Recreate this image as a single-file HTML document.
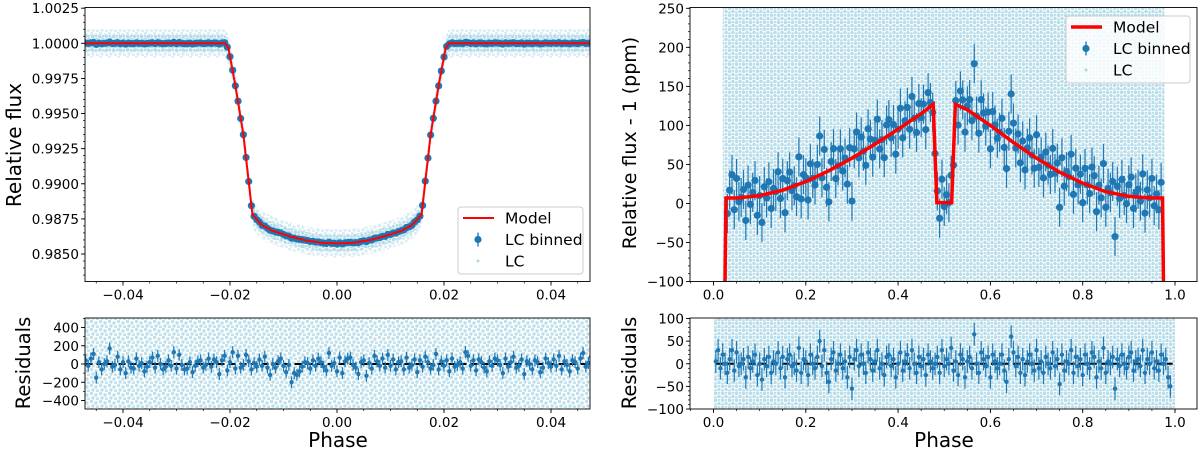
<!DOCTYPE html>
<html><head><meta charset="utf-8">
<style>
html,body{margin:0;padding:0;background:#fff;}
svg{display:block;font-family:"DejaVu Sans","Liberation Sans",sans-serif;}
</style></head>
<body>
<svg id="fig" width="1200" height="452" viewBox="0 0 1200 452" xmlns="http://www.w3.org/2000/svg">
<defs>
<pattern id="dotsA" width="9" height="8" patternUnits="userSpaceOnUse">
<circle cx="1.5" cy="1.5" r="1.7" fill="#add8e6" opacity="0.8"/>
<circle cx="6" cy="3" r="1.7" fill="#add8e6" opacity="0.8"/>
<circle cx="3" cy="6" r="1.7" fill="#add8e6" opacity="0.8"/>
<circle cx="7.5" cy="7" r="1.7" fill="#add8e6" opacity="0.7"/>
</pattern>
<pattern id="dotsB" width="7" height="7" patternUnits="userSpaceOnUse">
<circle cx="1.5" cy="1.5" r="1.8" fill="#add8e6" opacity="0.85"/>
<circle cx="5" cy="4.5" r="1.8" fill="#add8e6" opacity="0.85"/>
<circle cx="5" cy="1" r="1.4" fill="#add8e6" opacity="0.8"/>
<circle cx="1.5" cy="5.5" r="1.4" fill="#add8e6" opacity="0.8"/>
</pattern>
</defs>
</svg>
<script>
// ---------- data ----------
const leftModelPhase=[-0.048,-0.0209,-0.0203,-0.019,-0.0175,-0.0158,-0.014,-0.012,-0.009,-0.006,-0.003,0,0.003,0.006,0.009,0.012,0.014,0.0158,0.0175,0.019,0.0203,0.0209,0.048];
const leftModelFlux=[1.0,1.0,0.99965,0.9970,0.9935,0.9878,0.98705,0.98665,0.98628,0.98598,0.98580,0.98575,0.98580,0.98598,0.98628,0.98665,0.98705,0.9878,0.9935,0.9970,0.99965,1.0,1.0];
const leftBinStart=-0.0475, leftBinStep=0.0005;
const leftResid=[150,40,-20,60,110,-150,20,-60,0,30,170,-30,-10,80,-60,20,-100,30,-40,-50,60,-20,10,-80,-30,20,70,-40,90,0,-60,-30,40,-20,130,-50,100,-10,-60,-50,20,-90,-20,30,40,-40,-10,60,-30,50,20,-110,40,90,-70,20,130,-50,90,-40,-10,100,30,-60,10,-30,50,-20,80,-40,-120,0,-40,30,60,-20,-90,-10,-200,-100,-120,-80,-30,20,10,-50,40,-20,60,20,-30,-70,120,-20,10,-80,70,-100,30,60,70,-10,-40,-110,20,40,-130,10,-50,90,30,-20,60,-40,100,-20,50,-60,20,30,-60,70,-40,-10,50,-90,40,-30,80,20,-50,-10,110,-60,30,-20,40,-80,60,-30,-10,20,-50,130,90,-20,40,-70,50,20,-40,-80,30,-20,60,40,-10,-100,60,-30,20,80,-40,-20,50,-110,30,0,-60,40,20,-90,-40,60,10,-30,50,-20,90,-60,30,-10,-80,40,20,-50,60,120,-30,10,80];
const leftErr=65;
const leftYTicks=[0.985,0.9875,0.99,0.9925,0.995,0.9975,1.0,1.0025];
const leftYTickLabels=["0.9850","0.9875","0.9900","0.9925","0.9950","0.9975","1.0000","1.0025"];
const leftXTicks=[-0.04,-0.02,0,0.02,0.04];
const leftXTickLabels=["\u22120.04","\u22120.02","0.00","0.02","0.04"];
const leftRYTicks=[-400,-200,0,200,400];
const leftRYTickLabels=["\u2212400","\u2212200","0","200","400"];

const rightModelPhase=[0.025,0.027,0.05,0.1,0.15,0.2,0.25,0.3,0.35,0.4,0.45,0.476,0.484,0.516,0.524,0.55,0.6,0.65,0.7,0.75,0.8,0.85,0.9,0.95,0.973,0.975];
const rightModelFlux=[-100,7,7,10,17,28,42,58,76,95,115,127,1,1,127,120,100,78,58,40,26,15,9,7,7,-100];
const rightBinStart=0.005, rightBinStep=0.005;
const rightResid=[5,30,-10,20,0,-20,10,30,-15,25,-5,0,10,-30,15,-10,5,20,-25,0,-35,10,-5,15,-20,5,0,25,-10,15,-30,10,20,-5,0,-15,35,-20,10,5,-25,20,0,-10,15,50,-5,30,-20,-40,10,25,-15,0,20,-10,5,-30,15,-55,10,30,-5,20,0,-20,25,10,-15,5,30,-10,0,-25,15,20,-5,10,-30,0,25,-15,5,20,-10,30,0,-20,15,-5,10,-25,20,5,-10,0,15,-20,30,-5,10,0,35,-15,5,-25,20,10,-30,5,15,-10,65,0,-20,25,10,-5,15,-30,20,5,-10,0,20,-15,-40,10,60,25,-5,15,-20,10,-25,5,20,0,-15,30,-10,5,-20,15,0,-10,25,-5,10,-45,20,-15,5,0,30,-20,15,-5,10,-25,20,0,-10,25,15,-30,5,-10,35,-20,5,0,15,-55,10,-5,20,0,-10,15,25,-15,5,10,-5,30,-20,10,0,25,-10,5,-15,20,0,10,-30,-50];
const rightErr=25;
const rightYTicks=[-100,-50,0,50,100,150,200,250];
const rightYTickLabels=["\u2212100","\u221250","0","50","100","150","200","250"];
const rightXTicks=[0,0.2,0.4,0.6,0.8,1.0];
const rightXTickLabels=["0.0","0.2","0.4","0.6","0.8","1.0"];
const rightRYTicks=[-100,-50,0,50,100];
const rightRYTickLabels=["\u2212100","\u221250","0","50","100"];

// ---------- helpers ----------
const NS="http://www.w3.org/2000/svg";
const svg=document.getElementById('fig');
function mk(tag,attrs,parent){const e=document.createElementNS(NS,tag);for(const k in attrs)e.setAttribute(k,attrs[k]);(parent||svg).appendChild(e);return e;}
function lin(d0,d1,r0,r1){return v=>r0+(v-d0)/(d1-d0)*(r1-r0);}
function interp(xs,ys,x){if(x<=xs[0])return ys[0];for(let i=1;i<xs.length;i++){if(x<=xs[i]){const t=(x-xs[i-1])/(xs[i]-xs[i-1]);return ys[i-1]+t*(ys[i]-ys[i-1]);}}return ys[ys.length-1];}
let clipId=0;
function panel(p){
  const g=mk('g',{});
  
  
  const cid='clip'+(clipId++);
  const cp=mk('clipPath',{id:cid},g);mk('rect',{x:p.x0,y:p.y0,width:p.x1-p.x0,height:p.y1-p.y0},cp);
  const plot=mk('g',{'clip-path':'url(#'+cid+')'},g);
  
  
  return {g,plot};
}
function axes(g,p,sx,sy,xt,xl,yt,yl,xminor,yminor){
  const ax=mk('g',{},g);
  
  
  mk('rect',{x:p.x0,y:p.y0,width:p.x1-p.x0,height:p.y1-p.y0,fill:'none',stroke:'#000','stroke-width':0.9},ax);
  xt.forEach((v,i)=>{const x=sx(v);mk('line',{x1:x,x2:x,y1:p.y1,y2:p.y1+4,stroke:'#000','stroke-width':0.9},ax);
    const t=mk('text',{x:x,y:p.y1+18,'text-anchor':'middle','font-size':13.5},ax);t.textContent=xl[i];
    });
  yt.forEach((v,i)=>{const y=sy(v);mk('line',{x1:p.x0-4,x2:p.x0,y1:y,y2:y,stroke:'#000','stroke-width':0.9},ax);
    const t=mk('text',{x:p.x0-6,y:y+5,'text-anchor':'end','font-size':13.5},ax);t.textContent=yl[i];
    });
  xminor.forEach(v=>{const x=sx(v);if(x>=p.x0&&x<=p.x1)mk('line',{x1:x,x2:x,y1:p.y1,y2:p.y1+2,stroke:'#000','stroke-width':0.7},ax);});
  yminor.forEach(v=>{const y=sy(v);if(y>=p.y0-0.5&&y<=p.y1+0.5)mk('line',{x1:p.x0-2,x2:p.x0,y1:y,y2:y,stroke:'#000','stroke-width':0.7},ax);});
}
function minors(a,b,step){const r=[];for(let v=a;v<=b+1e-12;v+=step)r.push(+v.toFixed(6));return r;}
function label(txt,x,y,size,rot,name){const t=mk('text',{x:x,y:y,'text-anchor':'middle','font-size':size,transform:rot?`rotate(-90 ${x} ${y})`:''});t.textContent=txt;
  }
function errpt(parent,x,y,e,r,name){
  const gg=mk('g',{},parent);
  
  
  mk('line',{x1:x,x2:x,y1:y-e,y2:y+e,stroke:'#1f77b4','stroke-width':1.2},gg);
  mk('circle',{cx:x,cy:y,r:r,fill:'#1f77b4'},gg);
}
function legend(x,y,w,h,lw,name){
  const g=mk('g',{});
  
  
  mk('rect',{x:x,y:y,width:w,height:h,rx:3,fill:'#fff','fill-opacity':0.8,stroke:'#ccc','stroke-width':1},g);
  const items=['Model','LC binned','LC'];
  items.forEach((s,i)=>{const cy=y+11+i*21.5;
    const e=mk('g',{},g);
    
    
    if(i==0)mk('line',{x1:x+5,x2:x+36,y1:cy,y2:cy,stroke:'#ff0000','stroke-width':lw},e);
    if(i==1){mk('line',{x1:x+20,x2:x+20,y1:cy-7,y2:cy+7,stroke:'#1f77b4','stroke-width':1.3},e);mk('circle',{cx:x+20,cy:cy,r:3.6,fill:'#1f77b4'},e);}
    if(i==2)mk('circle',{cx:x+20,cy:cy,r:1.5,fill:'#add8e6'},e);
    const t=mk('text',{x:x+47,y:cy+5.5,'font-size':15.5},e);t.textContent=s;});
}

// ---------- left top ----------
(function(){
  const p={name:'transit-panel',x0:85,x1:590,y0:7.5,y1:281.5};
  const sx=lin(0,0.02,337,444), sy=lin(0.985,1.0,254,43.3);
  const {g,plot}=panel(p);
  function bandPath(w){let up='',dn='';
    for(let i=0;i<=200;i++){const ph=-0.05+i*0.0005;const f=interp(leftModelPhase,leftModelFlux,ph);up+=(i?'L':'M')+sx(ph)+','+sy(f+w);dn='L'+sx(ph)+','+sy(f-w)+dn;}
    return up+dn+'Z';}
  const band2=mk('path',{d:bandPath(0.001),fill:'url(#dotsA)',opacity:0.6},plot);
  
  const band=mk('path',{d:bandPath(0.0006),fill:'url(#dotsB)'},plot);
  
  const bg=mk('g',{},plot);
  leftResid.forEach((r,i)=>{const ph=leftBinStart+i*leftBinStep;const f=interp(leftModelPhase,leftModelFlux,ph)+r*1e-6*0.5;
    const y=sy(f);errpt(bg,sx(ph),y,Math.abs(sy(0)-sy(leftErr*1e-6)),3.6,'binned-point');});
  const d=leftModelPhase.map((ph,i)=>(i?'L':'M')+sx(ph)+','+sy(leftModelFlux[i])).join('');
  const m=mk('path',{d:d,fill:'none',stroke:'#ff0000','stroke-width':2},plot);
  
  axes(g,p,sx,sy,leftXTicks,leftXTickLabels,leftYTicks,leftYTickLabels,minors(-0.045,0.045,0.005),minors(0.983,1.0025,0.0005));
  legend(458,207,125,67,2,'legend-left');
})();
// ---------- left residuals ----------
(function(){
  const p={name:'transit-residuals-panel',x0:85,x1:590,y0:318,y1:409};
  const sx=lin(0,0.02,337,444), sy=lin(0,400,364,327.5);
  const {g,plot}=panel(p);
  const bgr=mk('rect',{x:p.x0,y:p.y0,width:p.x1-p.x0,height:p.y1-p.y0,fill:'url(#dotsA)'},plot);
  
  const z=mk('line',{x1:sx(-0.047),x2:sx(0.047),y1:sy(0),y2:sy(0),stroke:'#000','stroke-width':2,'stroke-dasharray':'7,4'},plot);
  
  const bg=mk('g',{},plot);
  leftResid.forEach((r,i)=>{const ph=leftBinStart+i*leftBinStep;errpt(bg,sx(ph),sy(r),Math.abs(sy(0)-sy(leftErr)),2.2,'residual-point');});
  axes(g,p,sx,sy,leftXTicks,leftXTickLabels,leftRYTicks,leftRYTickLabels,minors(-0.045,0.045,0.005),minors(-500,500,100));
})();
// ---------- right top ----------
(function(){
  const p={name:'phase-curve-panel',x0:690,x1:1197,y0:7.5,y1:281.5};
  const sx=lin(0,1,713.5,1175), sy=lin(-100,250,281.5,8.3);
  const {g,plot}=panel(p);
  const bgr=mk('rect',{x:sx(0.02),y:p.y0,width:sx(0.977)-sx(0.02),height:p.y1-p.y0,fill:'url(#dotsB)'},plot);
  
  const bg=mk('g',{},plot);
  rightResid.forEach((r,i)=>{const ph=rightBinStart+i*rightBinStep;if(ph<0.026||ph>0.974)return;
    const f=interp(rightModelPhase,rightModelFlux,ph)+r;errpt(bg,sx(ph),sy(f),Math.abs(sy(0)-sy(rightErr)),3.6,'binned-point');});
  const d=rightModelPhase.map((ph,i)=>(i?'L':'M')+sx(ph)+','+sy(rightModelFlux[i])).join('');
  const m=mk('path',{d:d,fill:'none',stroke:'#ff0000','stroke-width':3.5},plot);
  
  axes(g,p,sx,sy,rightXTicks,rightXTickLabels,rightYTicks,rightYTickLabels,minors(-0.05,1.05,0.05),minors(-100,250,10));
  legend(1066,16,124,67,3.5,'legend-right');
})();
// ---------- right residuals ----------
(function(){
  const p={name:'phase-curve-residuals-panel',x0:690,x1:1197,y0:318,y1:409};
  const sx=lin(0,1,713.5,1175), sy=lin(-100,100,409,318.5);
  const {g,plot}=panel(p);
  const bgr=mk('rect',{x:sx(0),y:p.y0,width:sx(1)-sx(0),height:p.y1-p.y0,fill:'url(#dotsB)'},plot);
  
  const z=mk('line',{x1:sx(0.005),x2:sx(0.995),y1:sy(0),y2:sy(0),stroke:'#000','stroke-width':2,'stroke-dasharray':'7,4'},plot);
  
  const bg=mk('g',{},plot);
  rightResid.forEach((r,i)=>{const ph=rightBinStart+i*rightBinStep;errpt(bg,sx(ph),sy(r),Math.abs(sy(0)-sy(rightErr)),2.2,'residual-point');});
  axes(g,p,sx,sy,rightXTicks,rightXTickLabels,rightRYTicks,rightRYTickLabels,minors(-0.05,1.05,0.05),minors(-100,100,10));
})();
// ---------- labels ----------
label('Relative flux',21,145,20,true,'y-axis-title-left');
label('Residuals',30,363,19.5,true,'residuals-y-title-left');
label('Phase',338,447,20,false,'x-axis-title-left');
label('Relative flux - 1 (ppm)',636,143,19,true,'y-axis-title-right');
label('Residuals',636,363,19.5,true,'residuals-y-title-right');
label('Phase',944,447,20,false,'x-axis-title-right');
</script>
</body></html>
